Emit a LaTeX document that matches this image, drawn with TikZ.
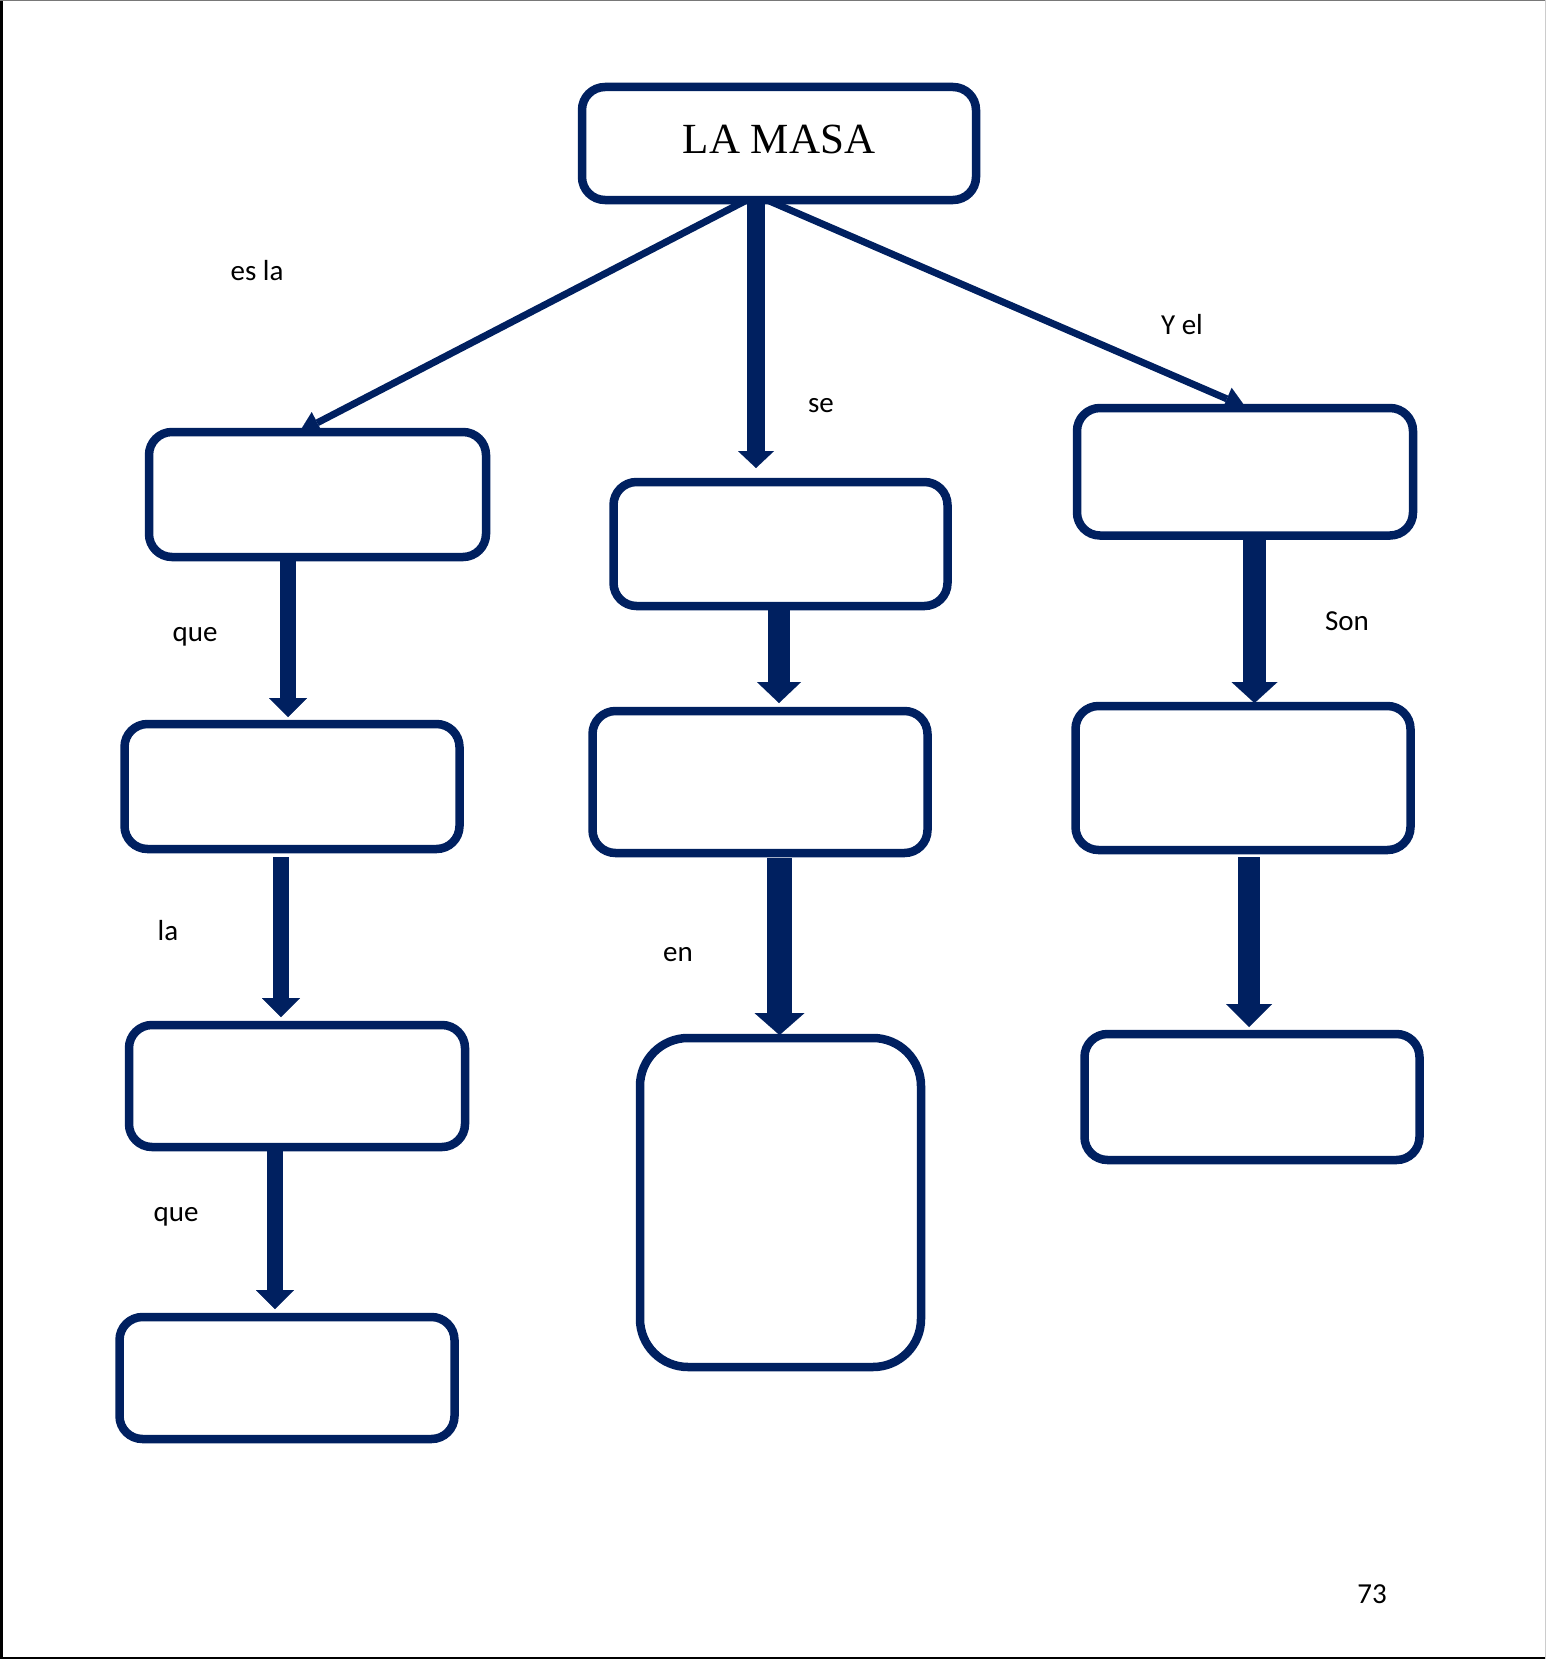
\documentclass[tikz,border=0pt]{standalone}
\usepackage{fontspec}
\setmainfont{Liberation Serif}
\newfontfamily\labelfont{Carlito}
\usetikzlibrary{arrows.meta}

\definecolor{navy}{RGB}{0,32,96}
\definecolor{framegray}{RGB}{120,120,120}

\tikzset{
  box/.style={draw=navy, line width=8.5pt, rounded corners=23pt, outer sep=0pt,
              inner sep=0pt, fill=white},
  lbl/.style={font=\labelfont\fontsize{29pt}{34pt}\selectfont, inner sep=0pt},
  thin arrow/.style={draw=navy, line width=7pt,
              -{Triangle[width=24pt,length=20pt,line width=0.01pt]}},
  block arrow/.style args={#1/#2/#3}{draw=navy, line width=#1,
              -{Triangle[width=#2,length=#3,line width=0.01pt]}},
}

\begin{document}
\begin{tikzpicture}[x=1pt,y=-1pt]
  \useasboundingbox (0,0) rectangle (1546,1659);
  % page frame
  \draw[black, line width=2.5pt] (1.25,0) -- (1.25,1659);
  \draw[framegray, line width=1.5pt] (0,0.75) -- (1546,0.75);
  \draw[black, line width=2.5pt] (0,1657.75) -- (1546,1657.75);
  \draw[gray!40, line width=1pt] (1545.5,0) -- (1545.5,1659);

  % title
  \node[box, minimum width=394pt, minimum height=113pt] (top) at (779,143.5)
    {\fontsize{43pt}{50pt}\selectfont\raisebox{8.5pt}{LA MASA}};

  % left column
  \node[box, minimum width=337pt, minimum height=125pt] (l1) at (317.5,494.5) {};
  \node[box, minimum width=335pt, minimum height=125pt] (l2) at (292,786.5) {};
  \node[box, minimum width=336pt, minimum height=122pt] (l3) at (297,1086) {};
  \node[box, minimum width=335pt, minimum height=122pt] (l4) at (287,1378) {};

  % middle column
  \node[box, minimum width=334pt, minimum height=124pt] (m1) at (780.5,544) {};
  \node[box, minimum width=335pt, minimum height=142pt] (m2) at (760,782) {};
  \node[box, rounded corners=48pt, minimum width=281pt, minimum height=329pt] (m3) at (780.5,1202.5) {};

  % right column
  \node[box, minimum width=336pt, minimum height=127.5pt] (r1) at (1245,471.75) {};
  \node[box, minimum width=335pt, minimum height=144pt] (r2) at (1243,778) {};
  \node[box, minimum width=335pt, minimum height=126pt] (r3) at (1252,1097) {};

  % connectors from the title
  \draw[thin arrow] ([xshift=-32pt]top.south) -- ([xshift=-18pt]l1.north);
  \draw[block arrow={18pt/36pt/17pt}, shorten >=14pt]
    ([xshift=-23pt]top.south) -- ([xshift=-24.5pt]m1.north);
  \draw[thin arrow, shorten >=3pt] ([xshift=-12pt]top.south) -- ([xshift=3pt]r1.north);

  % left column connectors
  \draw[block arrow={16pt/38pt/19pt}, shorten >=7pt]
    ([xshift=-29.5pt]l1.south) -- ([xshift=-4pt]l2.north);
  \draw[block arrow={16pt/38pt/19pt}, shorten <=8pt, shorten >=8pt]
    ([xshift=-11pt]l2.south) -- ([xshift=-16pt]l3.north);
  \draw[block arrow={16pt/38pt/19pt}, shorten >=8pt]
    ([xshift=-22pt]l3.south) -- ([xshift=-12pt]l4.north);

  % middle column connectors
  \draw[block arrow={22pt/44pt/21pt}, shorten >=8pt]
    ([xshift=-1.5pt]m1.south) -- ([xshift=19pt]m2.north);
  \draw[block arrow={25pt/50pt/22pt}, shorten <=5pt, shorten >=3pt]
    ([xshift=19.5pt]m2.south) -- ([xshift=-1pt]m3.north);

  % right column connectors
  \draw[block arrow={23pt/46pt/21pt}, shorten >=3pt]
    ([xshift=9.5pt]r1.south) -- ([xshift=11.5pt]r2.north);
  \draw[block arrow={22pt/46pt/23pt}, shorten <=7pt, shorten >=7pt]
    ([xshift=6pt]r2.south) -- ([xshift=-3pt]r3.north);

  % connector labels
  \node[lbl] (t1) at (257,271) {es la};
  \node[lbl] (t2) at (195,637) {que};
  \node[lbl] (t3) at (168,931) {la};
  \node[lbl] (t4) at (176,1217) {que};
  \node[lbl] (t5) at (821,406) {se};
  \node[lbl] (t6) at (678,955) {en};
  \node[lbl] (t7) at (1182,325) {Y el};
  \node[lbl] (t8) at (1347,621) {Son};

  % page number
  \node[lbl] (pg) at (1372,1594) {73};
\end{tikzpicture}
\end{document}
